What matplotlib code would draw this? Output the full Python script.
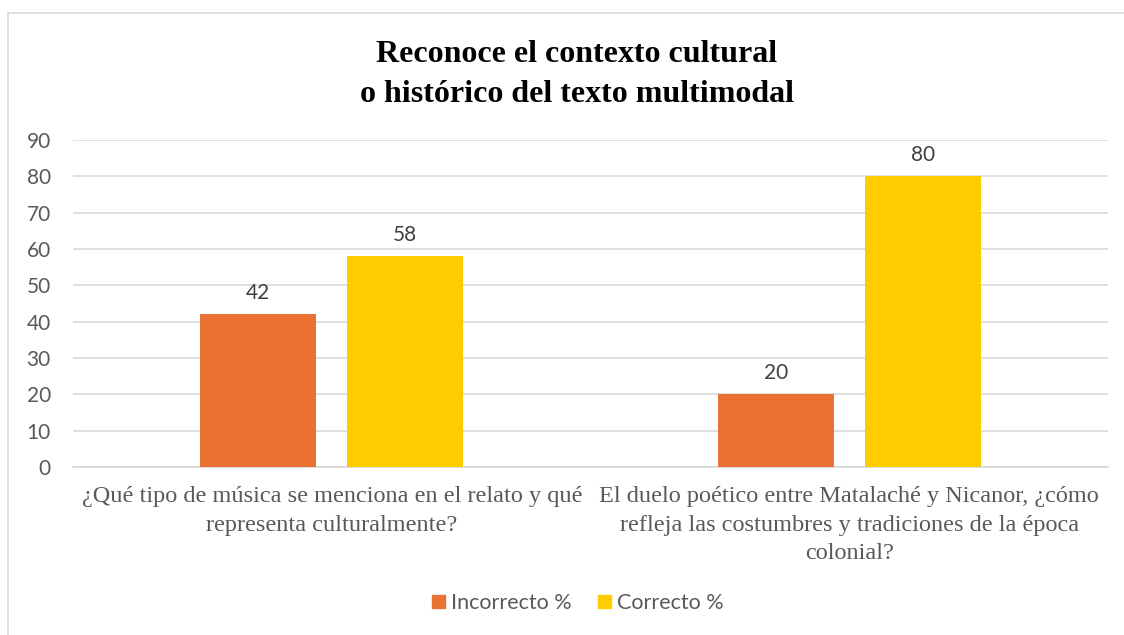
import matplotlib.pyplot as plt
import matplotlib.patches as mpatches
import numpy as np

categories = ["¿Qué tipo de música se menciona en el relato y qué\nrepresenta culturalmente?",
              "El duelo poético entre Matalaché y Nicanor, ¿cómo\nrefleja las costumbres y tradiciones de la época\ncolonial?"]
incorrecto = [42, 20]
correcto = [58, 80]
series_names = ["Incorrecto %", "Correcto %"]
yticks = [0, 10, 20, 30, 40, 50, 60, 70, 80, 90]

c_orange = "#E97132"
c_yellow = "#FFCC00"
gray_txt = "#595959"

fig = plt.figure(figsize=(11.24, 6.35), dpi=100)
# chart border (left and top visible)
fig.add_artist(plt.Line2D([8/1124, 8/1124], [0, 1 - 13/635], color="#D9D9D9", lw=1.2))
fig.add_artist(plt.Line2D([8/1124, 1], [1 - 13/635, 1 - 13/635], color="#D9D9D9", lw=1.2))

ax = fig.add_axes([73/1124, 1 - 467/635, (1108 - 73)/1124, (467 - 140)/635])
x = np.arange(len(categories))
w = 0.224
off = 0.142
b1 = ax.bar(x - off, incorrecto, w, color=c_orange, zorder=3)
b2 = ax.bar(x + off, correcto, w, color=c_yellow, zorder=3)

for bars in (b1, b2):
    for r in bars:
        ax.annotate(f"{r.get_height():.0f}", (r.get_x() + r.get_width()/2, r.get_height()),
                    xytext=(0, 8), textcoords="offset points", ha="center", va="bottom",
                    fontsize=15, color="#404040", family="Lato")

ax.set_xlim(-0.5, 1.5)
ax.set_ylim(0, 90)
ax.set_yticks(yticks)
ax.yaxis.grid(True, color="#D9D9D9", lw=1.2, zorder=0)
for s in ["top", "right", "left"]:
    ax.spines[s].set_visible(False)
ax.spines["bottom"].set_color("#D9D9D9")
ax.spines["bottom"].set_linewidth(1.2)
ax.tick_params(axis="y", length=0, pad=16, labelsize=15, labelcolor=gray_txt)
for t in ax.get_yticklabels():
    t.set_family("Lato")
ax.set_xticks(x)
ax.set_xticklabels(categories, family="Liberation Serif", fontsize=17.5, color=gray_txt,
                   linespacing=1.45)
ax.tick_params(axis="x", length=0, pad=14)

fig.text(0.513, 1 - 74/635, "Reconoce el contexto cultural\no histórico del texto multimodal",
         ha="center", va="center", family="Liberation Serif", fontweight="bold",
         fontsize=23, linespacing=1.5)

handles = [mpatches.Patch(color=c_orange), mpatches.Patch(color=c_yellow)]
fig.legend(handles, series_names, loc="center", bbox_to_anchor=(578/1124, 1 - 603/635),
           ncol=2, frameon=False, prop={"family": "Lato", "size": 15.5}, labelcolor=gray_txt,
           handlelength=0.6, handleheight=0.6, handletextpad=0.3, columnspacing=1.2)

fig.savefig("out.png", dpi=100)
